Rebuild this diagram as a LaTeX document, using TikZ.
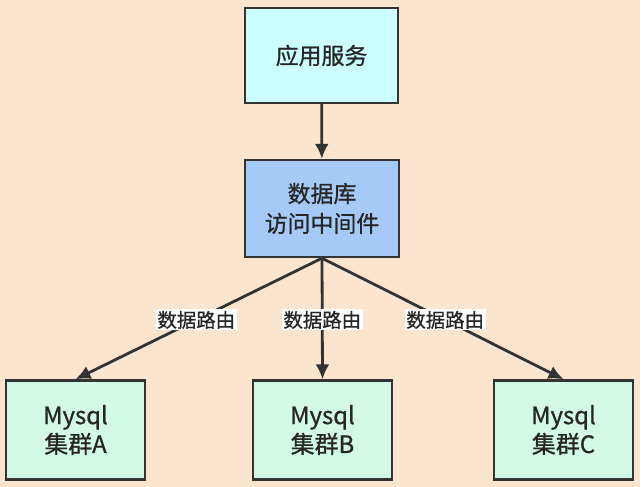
\documentclass[tikz,border=0pt]{standalone}
\usepackage{fontspec}
\setmainfont{Noto Sans CJK SC}[FakeBold=0.8]
\usepackage{tikz}
\usepackage{xcolor}
\usetikzlibrary{
    arrows.meta,
    positioning
}
\definecolor{peach}{RGB}{252,229,207}
\definecolor{appcyan}{RGB}{204,255,255}
\definecolor{midblue}{RGB}{166,202,248}
\definecolor{mint}{RGB}{210,250,230}
\definecolor{edgegray}{RGB}{51,51,51}
\tikzset{
    box/.style={draw=edgegray, line width=2.4bp, align=center, inner sep=0pt, font=\fontsize{23}{30}\selectfont, text=black!85},
    cluster/.style={box, fill=mint, minimum width=139bp, minimum height=99bp, font=\fontsize{24}{29}\selectfont},
    flow/.style={draw=edgegray, line width=2.8bp, -{Latex[length=15bp, width=14bp]}},
    route/.style={fill=white, inner sep=1.5bp, font=\fontsize{19.5}{21}\selectfont, text=black!85}
}

\begin{document}
\begin{tikzpicture}[x=1bp, y=1bp]
    \fill[peach] (0, 0) rectangle (640, 487);
    \useasboundingbox (0, 0) rectangle (640, 487);
    \node[box, fill=appcyan, minimum width=153bp, minimum height=95bp] (app) at (321.5, 431.5) {应用服务};
    \node[box, fill=midblue, minimum width=154bp, minimum height=97bp] (proxy) at (322, 278.5) {数据库\\访问中间件};
    \node[cluster] (mysqlA) at (75.5, 57) {Mysql\\集群A};
    \node[cluster] (mysqlB) at (322.5, 57) {Mysql\\集群B};
    \node[cluster] (mysqlC) at (563.5, 57) {Mysql\\集群C};
    \draw[flow] (app) -- (proxy);
    \draw[flow] (proxy.south) -- node[route, pos=0.51] (routeA) {数据路由} (mysqlA.north);
    \draw[flow] (proxy.south) -- node[route, pos=0.51] (routeB) {数据路由} (mysqlB.north);
    \draw[flow] (proxy.south) -- node[route, pos=0.51] (routeC) {数据路由} (mysqlC.north);
\end{tikzpicture}
\end{document}
